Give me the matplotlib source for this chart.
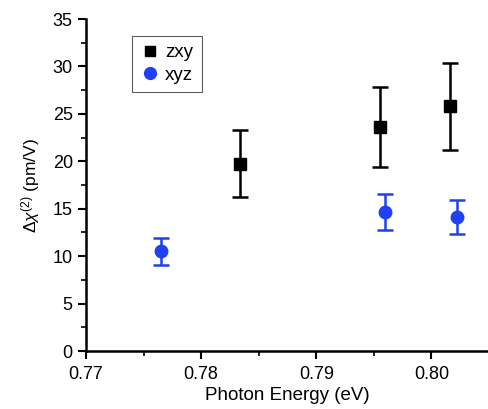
import numpy as np
import matplotlib
matplotlib.use('Agg')
import matplotlib.pyplot as plt
from matplotlib.ticker import MultipleLocator
from matplotlib.lines import Line2D

plt.rcParams['font.family'] = ['Liberation Sans', 'DejaVu Sans']
plt.rcParams['mathtext.fontset'] = 'custom'
plt.rcParams['mathtext.rm'] = 'Liberation Sans'
plt.rcParams['mathtext.it'] = 'Liberation Sans:italic'

# zxy data
zxy_x = [0.7834, 0.7955, 0.8016]
zxy_y = [19.7, 23.6, 25.8]
zxy_lo = [16.2, 19.4, 21.2]
zxy_hi = [23.3, 27.8, 30.4]

# xyz data
xyz_x = [0.7765, 0.7960, 0.8022]
xyz_y = [10.5, 14.7, 14.1]
xyz_lo = [9.1, 12.8, 12.3]
xyz_hi = [11.9, 16.6, 15.9]

blue = '#2140f2'

fig = plt.figure(figsize=(4.89, 4.09), dpi=100)
ax = fig.add_axes([86/489, 1-351/409, (489-86)/489, (351-19)/409])

zerr = [np.array(zxy_y) - np.array(zxy_lo), np.array(zxy_hi) - np.array(zxy_y)]
xerr = [np.array(xyz_y) - np.array(xyz_lo), np.array(xyz_hi) - np.array(xyz_y)]

ax.errorbar(zxy_x, zxy_y, yerr=zerr, fmt='s', color='black', ms=8,
            elinewidth=1.8, capsize=6, capthick=1.8)
ax.errorbar(xyz_x, xyz_y, yerr=xerr, fmt='o', color=blue, ms=9,
            elinewidth=1.8, capsize=6, capthick=1.8)

ax.set_xlim(0.77, 0.8050)
ax.set_ylim(0, 35)
ax.xaxis.set_minor_locator(MultipleLocator(0.005))
ax.yaxis.set_major_locator(MultipleLocator(5))
ax.yaxis.set_minor_locator(MultipleLocator(2.5))
ax.set_xticks([0.77, 0.78, 0.79, 0.80])
ax.set_xticklabels(['0.77', '0.78', '0.79', '0.80'])

for s in ['top', 'right']:
    ax.spines[s].set_visible(False)
for s in ['left', 'bottom']:
    ax.spines[s].set_linewidth(1.8)
ax.tick_params(which='major', direction='out', length=6, width=1.5, labelsize=13)
ax.tick_params(axis='x', which='major', pad=5)
ax.tick_params(which='minor', direction='out', length=3.5, width=1.2)

ax.set_xlabel('Photon Energy (eV)', fontsize=13.5, labelpad=3)
ax.set_ylabel(r'$\Delta\chi^{(2)}$ (pm/V)', fontsize=12.5, labelpad=8)

handles = [Line2D([], [], ls='none', marker='s', color='black', ms=7.5),
           Line2D([], [], ls='none', marker='o', color=blue, ms=8.5)]
leg = ax.legend(handles, ['zxy', 'xyz'], loc='upper left',
                bbox_to_anchor=(0.115, 0.95), fontsize=13.5,
                frameon=True, fancybox=False, edgecolor='#333333',
                handletextpad=0.3, borderpad=0.45, handlelength=1.0,
                labelspacing=0.3, borderaxespad=0)
leg.get_frame().set_linewidth(0.8)

fig.savefig('out.png', dpi=100)
